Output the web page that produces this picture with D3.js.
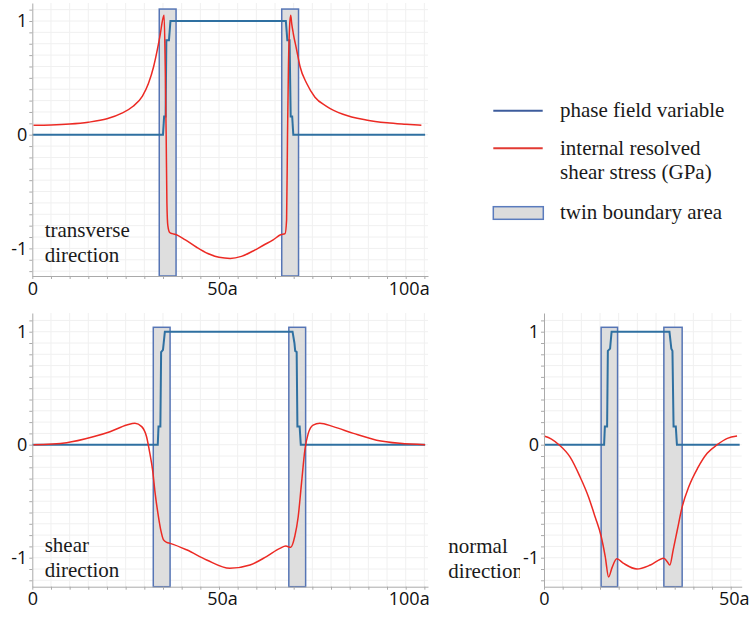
<!DOCTYPE html>
<html>
<head>
<meta charset="utf-8">
<script src="https://cdn.jsdelivr.net/npm/d3@7"></script>
<style>
body{margin:0;background:#fff;}
svg{display:block;}
.grid line{stroke:#f0f0f0;stroke-width:1px;}
.axis path,.axis line{stroke:#aaa;}
.axis text{font-family:"Open Sans",sans-serif;font-size:18px;fill:#111;}
.stress{fill:none;stroke:#ec2a24;stroke-width:1.5px;}
.phase{fill:none;stroke:#2f70a1;stroke-width:2px;}
.twin{fill:#dedede;stroke:#5675b5;stroke-width:1.5px;}
.label{font-family:"Liberation Serif","Times New Roman",serif;font-size:21px;fill:#1a1a1a;}
</style>
</head>
<body>
<svg id="chart" width="749" height="617"></svg>
<script>
// tick labels
var yTickValues = [-1, 0, 1];
var yTickLabels = ["-1", "0", "1"];
var xTickValuesLong = [0, 50, 100];
var xTickLabelsLong = ["0", "50a", "100a"];
var xTickValuesShort = [0, 50];
var xTickLabelsShort = ["0", "50a"];

// transverse direction
var transPhaseX = [0, 35.0, 35.3, 35.7, 35.9, 36.6, 37.0, 67.9, 68.3, 68.9, 69.2, 69.6, 69.9, 105.2];
var transPhaseY = [0, 0, 0.16, 0.16, 0.83, 0.83, 1, 1, 0.83, 0.83, 0.16, 0.16, 0, 0];
var transStressX = [0.3, 5, 10, 15, 20, 24, 27, 29.5, 31.1, 32.5, 33.5, 34.3, 34.9, 35.3, 35.6, 35.85, 36.05, 36.3, 36.8, 37.5,
  38.2, 41, 44, 47, 50, 53, 56, 59, 62, 64.5, 66.5, 67.7, 68.1, 68.35, 68.6, 68.9, 69.2, 69.5, 69.9, 70.8,
  71.7, 73.5, 75.7, 78.8, 83.2, 89.4, 95, 100, 104.2];
var transStressY = [0.083, 0.086, 0.094, 0.11, 0.14, 0.19, 0.25, 0.34, 0.45, 0.6, 0.75, 0.89, 1.01, 1.05, 0.6, 0.0, -0.6, -0.8, -0.86, -0.87,
  -0.875, -0.925, -0.99, -1.045, -1.078, -1.088, -1.07, -1.025, -0.97, -0.925, -0.88, -0.87, -0.75, 0.0, 0.6, 0.95, 1.05, 0.97, 0.89, 0.745,
  0.6, 0.45, 0.33, 0.25, 0.18, 0.13, 0.105, 0.092, 0.083];
var transTwinStart = [34.0, 66.8];
var transTwinEnd = [38.5, 71.3];
var transTwinTop = 1.105;

// shear direction
var shearPhaseX = [0, 33.6, 33.8, 34.3, 34.5, 35.0, 35.5, 69.7, 70.2, 70.4, 70.8, 71.0, 71.6, 71.9, 105.2];
var shearPhaseY = [0, 0, 0.16, 0.16, 0.82, 0.84, 1, 1, 0.9, 0.83, 0.82, 0.16, 0.16, 0, 0];
var shearStressX = [0.3, 9.2, 16.3, 20.8, 25.3, 27.5, 29.3, 30.6, 31.5, 32.2, 32.9, 33.8, 34.5, 35.1, 36.0, 36.9, 41.3, 46.7, 52.9, 58.3,
  62.7, 66.3, 67.9, 69.2, 70.3, 71.2, 72.1, 73.0, 73.9, 75.2, 77.0, 80.6, 86.0, 92.2, 98.5, 105.2];
var shearStressY = [0, 0.018, 0.07, 0.115, 0.174, 0.19, 0.16, 0.07, -0.08, -0.22, -0.43, -0.64, -0.77, -0.84, -0.865, -0.873, -0.93, -1.02, -1.094, -1.065,
  -0.99, -0.917, -0.897, -0.908, -0.81, -0.64, -0.34, -0.047, 0.1, 0.174, 0.19, 0.16, 0.1, 0.04, 0.012, 0];
var shearTwinStart = [32.4, 68.7];
var shearTwinEnd = [36.9, 73.2];
var shearTwinTop = 1.039;

// normal direction
var normPhaseX = [0, 16.1, 16.3, 16.9, 17.1, 17.7, 18.1, 33.6, 34.1, 34.4, 34.7, 35.3, 35.6, 52.4];
var normPhaseY = [0, 0, 0.16, 0.16, 0.83, 0.85, 1, 1, 0.85, 0.83, 0.16, 0.16, 0, 0];
var normStressX = [0, 2, 4, 7.0, 9.6, 11.9, 13.7, 15.3, 16.4, 17.3, 18.2, 19.5, 21.3, 24.9, 28.5, 32.1, 33.0, 33.7, 34.6, 35.7,
  37.0, 38.8, 41.1, 43.7, 46.4, 49.1, 51.7];
var normStressY = [0.077, 0.05, 0, -0.11, -0.28, -0.46, -0.64, -0.81, -0.99, -1.17, -1.09, -1.01, -1.05, -1.10, -1.065, -1.005, -1.035, -1.065, -0.93, -0.755,
  -0.55, -0.37, -0.21, -0.076, 0, 0.056, 0.077];
var normTwinStart = [15.3, 32.1];
var normTwinEnd = [19.7, 37.0];
var normTwinTop = 1.039;

var svg = d3.select("#chart");

svg.append("defs").append("clipPath").attr("id", "labelclip")
  .append("rect").attr("x", 0).attr("y", 300).attr("width", 520).attr("height", 317);

function zip(xs, ys) {
  return xs.map(function(d, i) { return [d, ys[i]]; });
}

function drawPanel(p) {
  var unit = p.y0 - p.y1;
  var yLo = (p.y0 - p.bottom) / unit, yHi = (p.y0 - p.top) / unit;
  var xMax = (p.right - p.left) / 3.734;
  var x = d3.scaleLinear().domain([0, xMax]).range([p.left, p.right]);
  var y = d3.scaleLinear().domain([yLo, yHi]).range([p.bottom, p.top]);
  var g = svg.append("g");

  var minorY = d3.range(Math.ceil(yLo * 10), Math.floor(yHi * 10) + 1).map(function(d) { return d / 10; });
  var minorX = d3.range(0, xMax, 5);

  var grid = g.append("g").attr("class", "grid");
  grid.selectAll(".gx").data(minorX.slice(1)).enter().append("line")
    .attr("x1", x).attr("x2", x).attr("y1", p.top).attr("y2", p.bottom);
  grid.selectAll(".gy").data(minorY).enter().append("line")
    .attr("x1", p.left).attr("x2", p.right).attr("y1", y).attr("y2", y);

  // twin boundary boxes
  g.selectAll(".twin").data(p.twinStart).enter().append("rect")
    .attr("class", "twin")
    .attr("x", function(d) { return x(d); })
    .attr("width", function(d, i) { return x(p.twinEnd[i]) - x(d); })
    .attr("y", y(p.twinTop))
    .attr("height", y(yLo) - y(p.twinTop));

  var line = d3.line().x(function(d) { return x(d[0]); }).y(function(d) { return y(d[1]); });

  g.append("path").attr("class", "phase").attr("d", line(zip(p.phaseX, p.phaseY)));
  g.append("path").attr("class", "stress")
    .attr("d", line.curve(d3.curveMonotoneX)(zip(p.stressX, p.stressY)));

  // axes
  g.append("g").attr("class", "axis")
    .attr("transform", "translate(" + p.left + ",0)")
    .call(d3.axisLeft(y).tickValues(minorY).tickSize(3).tickSizeOuter(0).tickPadding(2)
      .tickFormat(function(d) {
        var i = yTickValues.findIndex(function(v) { return Math.abs(v - d) < 1e-6; });
        return i >= 0 ? yTickLabels[i] : "";
      }));

  g.append("g").attr("class", "axis")
    .attr("transform", "translate(0," + p.bottom + ")")
    .call(d3.axisBottom(x).tickValues(minorX).tickSize(3).tickSizeOuter(0).tickPadding(3)
      .tickFormat(function(d) {
        var i = p.xTicks.indexOf(d);
        return i >= 0 ? p.xLabels[i] : "";
      }))
    .selectAll("text").attr("dx", function(d) { return d ? 3 : 0; });

  var lab = g.append("text").attr("class", "label");
  if (p.clip) lab.attr("clip-path", "url(#labelclip)");
  p.label.forEach(function(t, i) {
    lab.append("tspan").attr("x", p.labelX).attr("y", p.labelY + i * 25).text(t);
  });
}

drawPanel({
  left: 32.3, right: 428, top: 3, bottom: 276, y0: 134.7, y1: 21,
  phaseX: transPhaseX, phaseY: transPhaseY, stressX: transStressX, stressY: transStressY,
  twinStart: transTwinStart, twinEnd: transTwinEnd, twinTop: transTwinTop,
  xTicks: xTickValuesLong, xLabels: xTickLabelsLong,
  label: ["transverse", "direction"], labelX: 44.7, labelY: 236.7
});

drawPanel({
  left: 32.3, right: 428, top: 313, bottom: 586.7, y0: 444.7, y1: 331.7,
  phaseX: shearPhaseX, phaseY: shearPhaseY, stressX: shearStressX, stressY: shearStressY,
  twinStart: shearTwinStart, twinEnd: shearTwinEnd, twinTop: shearTwinTop,
  xTicks: xTickValuesLong, xLabels: xTickLabelsLong,
  label: ["shear", "direction"], labelX: 44.7, labelY: 551.7
});

drawPanel({
  left: 544, right: 741.7, top: 313, bottom: 586.7, y0: 444.7, y1: 331.7,
  phaseX: normPhaseX, phaseY: normPhaseY, stressX: normStressX, stressY: normStressY,
  twinStart: normTwinStart, twinEnd: normTwinEnd, twinTop: normTwinTop,
  xTicks: xTickValuesShort, xLabels: xTickLabelsShort,
  label: ["normal", "direction"], labelX: 448.3, labelY: 552.7, clip: true
});

// legend
var legend = svg.append("g");
legend.append("line").attr("x1", 493.3).attr("x2", 542.7).attr("y1", 110.7).attr("y2", 110.7)
  .attr("stroke", "#3d5c9c").attr("stroke-width", 2);
legend.append("text").attr("class", "label").attr("x", 560).attr("y", 116.5).text("phase field variable");
legend.append("line").attr("x1", 493.3).attr("x2", 542.7).attr("y1", 148.3).attr("y2", 148.3)
  .attr("stroke", "#e23a33").attr("stroke-width", 2);
var lt = legend.append("text").attr("class", "label");
lt.append("tspan").attr("x", 560).attr("y", 155).text("internal resolved");
lt.append("tspan").attr("x", 560).attr("y", 179.3).text("shear stress (GPa)");
legend.append("rect").attr("x", 493.3).attr("y", 206.7).attr("width", 50).attr("height", 12.6)
  .attr("fill", "#dcdcdc").attr("stroke", "#5a7bbd").attr("stroke-width", 1.5);
legend.append("text").attr("class", "label").attr("x", 560).attr("y", 219.3).text("twin boundary area");
</script>
</body>
</html>
